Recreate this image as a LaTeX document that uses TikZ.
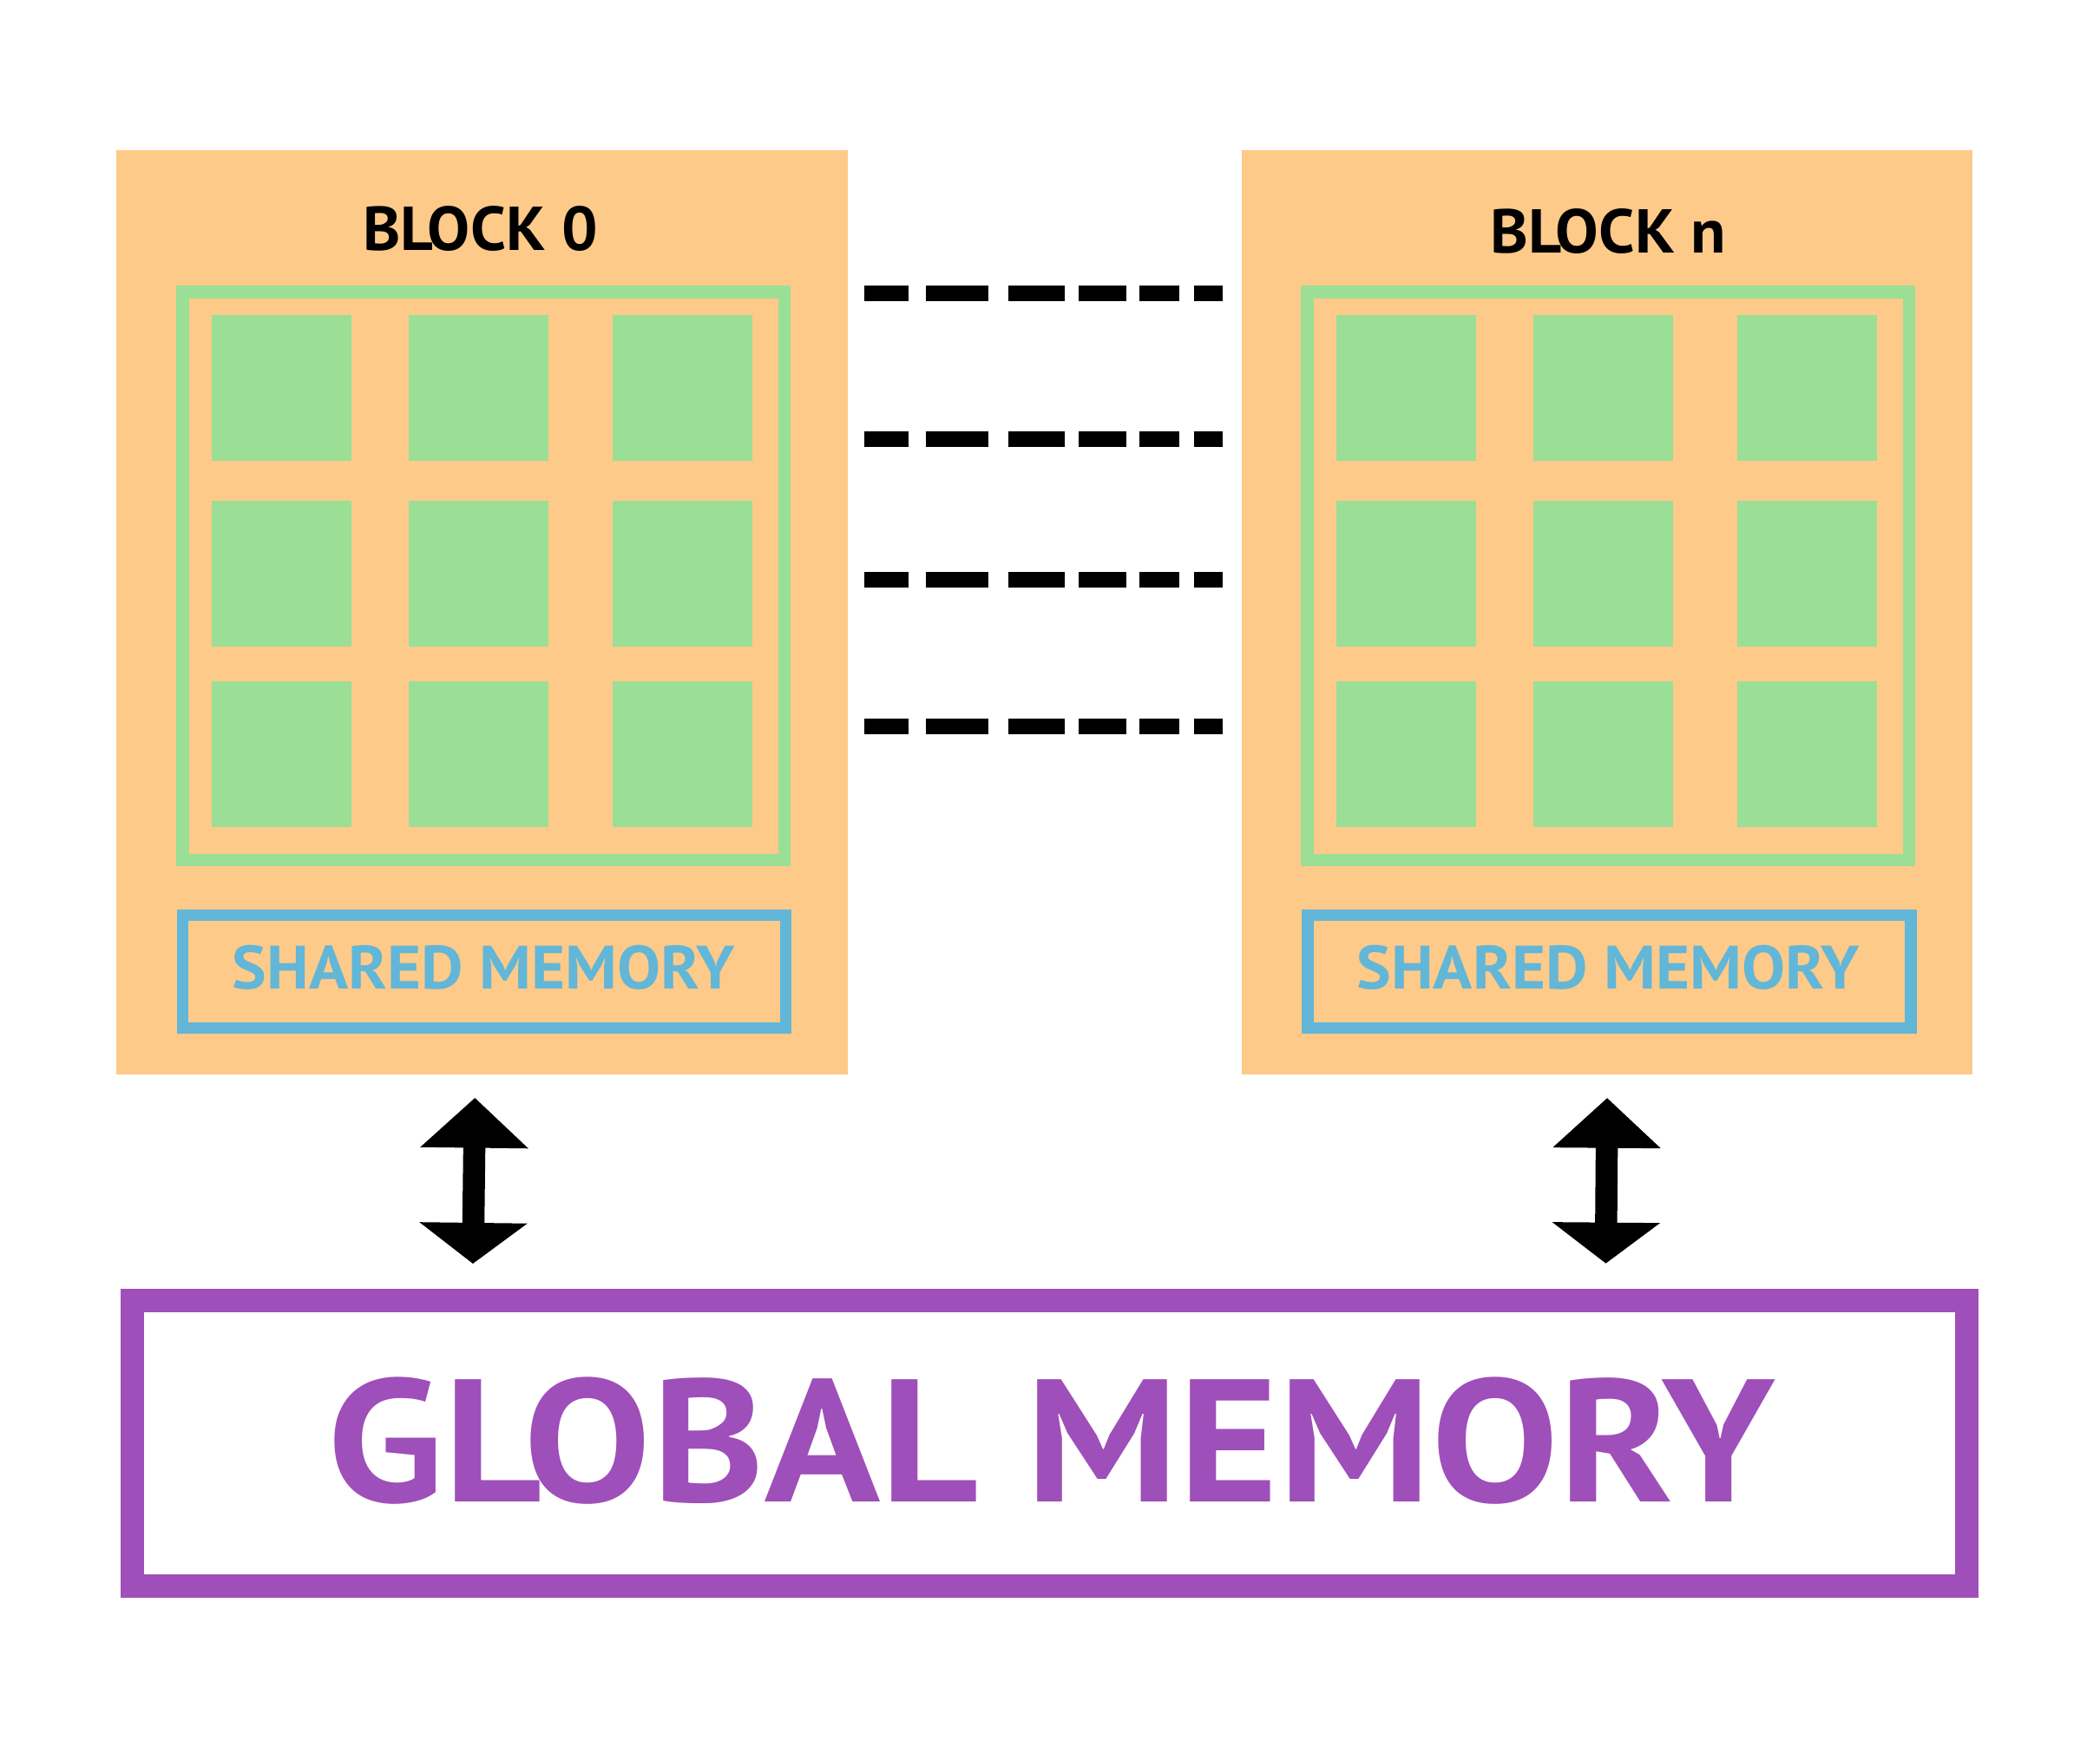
\documentclass[tikz,border=0pt]{standalone}
\usepackage{fontspec}
\setmainfont{PT Sans}
\usetikzlibrary{arrows.meta,calc}
\definecolor{orangec}{RGB}{253,202,137}
\definecolor{greenc}{RGB}{155,223,150}
\definecolor{bluec}{RGB}{98,182,215}
\definecolor{purplec}{RGB}{158,79,185}
\tikzset{
  blockbox/.style={fill=orangec, draw=none, minimum width=546pt, minimum height=690pt, inner sep=0pt, outer sep=0pt},
  threadbox/.style={fill=greenc, draw=none, minimum width=104.5pt, minimum height=109pt, inner sep=0pt, outer sep=0pt},
  gridframe/.style={draw=greenc, line width=9.5pt, minimum width=449.5pt, minimum height=423.8pt, inner sep=0pt, outer sep=0pt},
  smemframe/.style={draw=bluec, line width=8.7pt, minimum width=450.4pt, minimum height=84.3pt, inner sep=0pt, outer sep=0pt},
  gmemframe/.style={draw=purplec, line width=17.5pt, minimum width=1370pt, minimum height=213.3pt, inner sep=0pt, outer sep=0pt},
  titletext/.style={anchor=base, inner sep=0pt, font=\bfseries},
  dashline/.style={line width=11.6pt, line cap=butt, dash pattern=on 33.1pt off 12.9pt on 46.7pt off 14.9pt on 42.1pt off 10.4pt on 35.6pt off 9.7pt on 29.8pt off 11pt on 21.5pt off 60pt},
  biarrow/.style={line width=16.5pt, {Triangle[length=37.3pt,width=78.5pt]}-{Triangle[length=30.5pt,width=79pt]}}
}
\begin{document}
\begin{tikzpicture}[x=1pt,y=-1pt]
\useasboundingbox (0,0) rectangle (1568,1309);
\fill[white] (0,0) rectangle (1568,1309);
% blocks
\node[blockbox] (b0) at (360,457) {};
\node[blockbox] (bn) at (1200,457) {};
% grid frames
\node[gridframe] (g0) at (361,430.1) {};
\node[gridframe] (gn) at (1200.75,430.1) {};
% threads block 0
\foreach \c/\x in {1/210.25,2/357.25,3/509.75}{
  \foreach \r/\y in {1/289.5,2/428.5,3/563.25}{
    \node[threadbox] (t0-\r-\c) at (\x,\y) {};
  }
}
% threads block n
\foreach \c/\x in {1/1050,2/1197,3/1349.2}{
  \foreach \r/\y in {1/289.5,2/428.5,3/563.25}{
    \node[threadbox] (tn-\r-\c) at (\x,\y) {};
  }
}
% shared memory
\node[smemframe] (s0) at (361.5,725.45) {};
\node[smemframe] (sn) at (1201.5,725.45) {};
\node[titletext, text=bluec] (s0t) at (361,738.3) {\resizebox{375pt}{32.6pt}{SHARED MEMORY}};
\node[titletext, text=bluec] (snt) at (1200.5,738.3) {\resizebox{375pt}{32.6pt}{SHARED MEMORY}};
% titles
\node[titletext] (b0t) at (358.7,187) {\resizebox{175pt}{33pt}{BLOCK 0}};
\node[titletext] (bnt) at (1201,188.7) {\resizebox{176pt}{33pt}{BLOCK n}};
% dashed links
\foreach \i/\y in {1/219.1,2/327.9,3/432.8,4/542.4}{
  \coordinate (dl\i) at ($(b0.east |- 0,\y)+(12.3,0)$);
  \coordinate (dr\i) at ($(bn.west |- 0,\y)+(-13.5,0)$);
  \draw[dashline] (dl\i) -- (dr\i);
}
% global memory
\node[gmemframe] (gm) at (783.5,1077.25) {};
\node[titletext, text=purplec] (gmt) at (785,1121) {\resizebox{1081pt}{93pt}{GLOBAL MEMORY}};
% arrows
\coordinate (a0t) at (354.6,819.6);
\coordinate (a0b) at (353.1,943.4);
\coordinate (ant) at (1200,819.7);
\coordinate (anb) at (1199,943.2);
\draw[biarrow] (a0t) -- (a0b);
\draw[biarrow] (ant) -- (anb);
\end{tikzpicture}
\end{document}
